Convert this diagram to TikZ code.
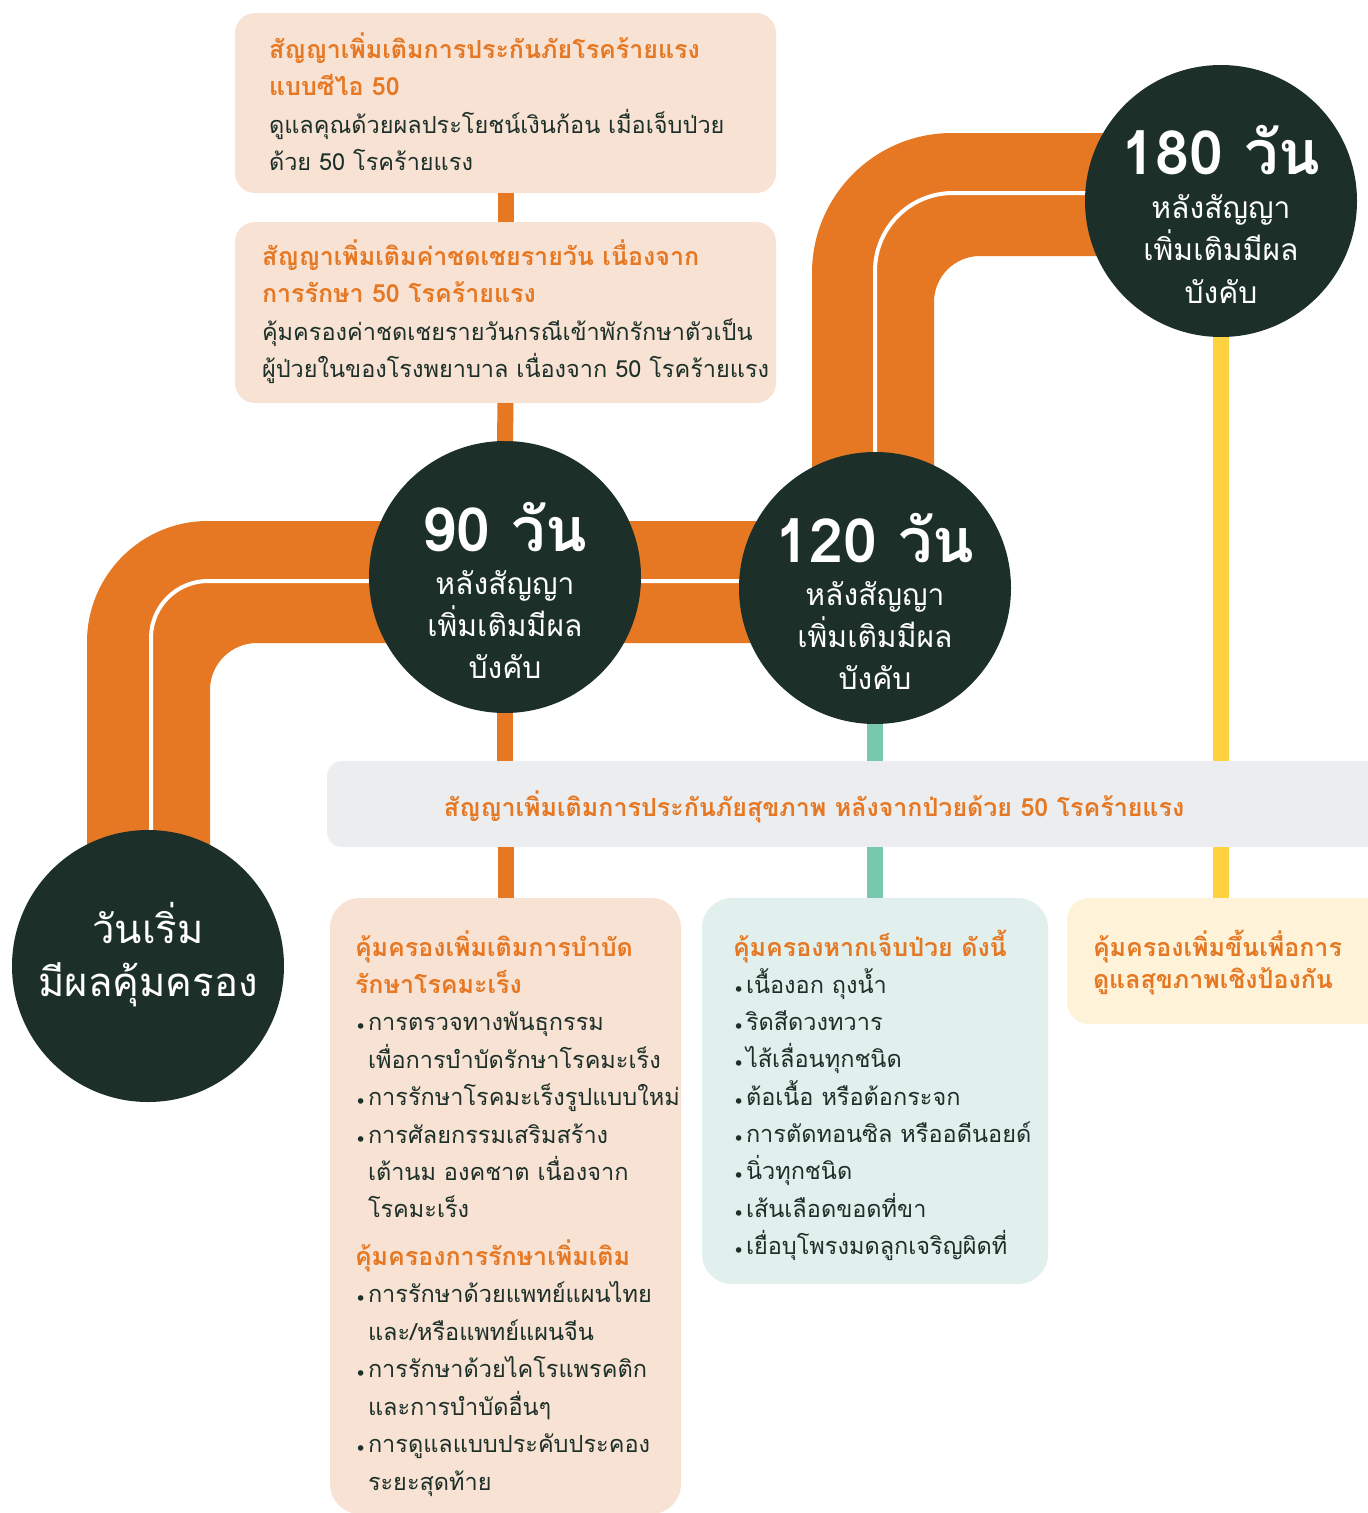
\documentclass[tikz,border=0pt]{standalone}
\usepackage{fontspec}
\newfontfamily\thai[Script=Thai]{Loma}
\newfontfamily\dv{DejaVu Sans}
\definecolor{orng}{HTML}{E67823}
\definecolor{dark}{HTML}{1C3029}
\definecolor{peach}{HTML}{F8E2D3}
\definecolor{grayb}{HTML}{ECEDEF}
\definecolor{teal}{HTML}{78C8AE}
\definecolor{yel}{HTML}{FFD23F}
\definecolor{tealbg}{HTML}{E1F0EC}
\definecolor{yelbg}{HTML}{FEF3D8}
\newcommand\fs[2]{\fontsize{#1}{#2}\selectfont}
\newcommand\Lyn[1]{\hbox{#1}}
\newcommand\stack[2]{\vtop{\baselineskip=#1\lineskiplimit=-1000pt\lineskip=0pt #2}}
\newcommand\ti{\color{orng}\bfseries}
\newcommand\bd{\color{dark}\mdseries\fs{23.5}{37.5}}
\newcommand\bul{\makebox[13pt][l]{\raisebox{-3pt}{\dv\fs{19}{19}•}}}
\newcommand\ind{\kern13pt}
\tikzset{
  shp/.style={inner sep=0pt, outer sep=0pt},
  card/.style={shp, rounded corners=#1},
  circ/.style={shp, circle, fill=dark, minimum size=272pt},
  txt/.style={inner sep=0pt, outer sep=0pt, font=\thai\fs{25}{37.5}},
  ctxt/.style={inner sep=0pt, anchor=base, text=white, font=\thai\fs{30}{40}},
  cbig/.style={inner sep=0pt, anchor=base, text=white, font=\thai\bfseries\fs{61}{61}},
  band/.style={fill=orng},
  wline/.style={draw=white, line width=4pt},
  stubO/.style={draw=orng, line width=16pt},
  stubT/.style={draw=teal, line width=16pt},
  stubY/.style={draw=yel, line width=16pt},
}
\begin{document}
\begin{tikzpicture}[x=1pt, y=-1pt]
\useasboundingbox (0,0) rectangle (1368,1513);
% bands
\fill[band] (87,1000) -- (87,642) arc[start angle=180, end angle=90, radius=121pt]
  -- (780,521) -- (780,643) -- (257,643) arc[start angle=90, end angle=180, radius=47pt] -- (210,1000) -- cycle;
\draw[wline] (151,1000) -- (151,638) arc[start angle=180, end angle=90, radius=57pt] -- (760,581);
\fill[band] (812,560) -- (812,273) arc[start angle=180, end angle=90, radius=140pt]
  -- (1200,133) -- (1200,256) -- (980,256) arc[start angle=90, end angle=180, radius=46pt] -- (934,560) -- cycle;
\draw[wline] (875,560) -- (875,271) arc[start angle=180, end angle=90, radius=78pt] -- (1150,193);
% cards
\node[card=20pt, fill=peach, minimum width=541pt, minimum height=180pt] (b1) at (505.5,103) {};
\node[card=20pt, fill=peach, minimum width=541pt, minimum height=181pt] (b2) at (505.5,312.5) {};
\node[card=15pt, fill=grayb, minimum width=1073pt, minimum height=86pt] (gray) at (863.5,804) {};
\node[card=30pt, fill=peach, minimum width=351pt, minimum height=616pt] (b3) at (505.5,1206) {};
\node[card=30pt, fill=tealbg, minimum width=346pt, minimum height=386pt] (b4) at (875,1091) {};
\node[card=22pt, fill=yelbg, minimum width=333pt, minimum height=126pt] (b5) at (1233.5,961) {};
% circles
\node[circ] (c0) at (148,966) {};
\node[circ] (c90) at (505,577) {};
\node[circ] (c120) at (875,588) {};
\node[circ] (c180) at (1221,201) {};
% connectors
\draw[stubO] (b1.south) -- (b2.north);
\draw[stubO] (b2.south) -- (c90.north);
\draw[stubO] (c90.south) -- (c90.south |- gray.north);
\draw[stubO] (b3.north |- gray.south) -- (b3.north);
\draw[stubT] (c120.south) -- (c120.south |- gray.north);
\draw[stubT] (b4.north |- gray.south) -- (b4.north);
\draw[stubY] (c180.south) -- (c180.south |- gray.north);
\draw[stubY] (c180.south |- gray.south) -- (c180.south |- b5.north);
% circle texts
\node[cbig] (c90a) at (505,551) {90 วัน};
\node[ctxt] (c90b) at (505,594) {หลังสัญญา};
\node[ctxt] (c90c) at (505,636) {เพิ่มเติมมีผล};
\node[ctxt] (c90d) at (505,678) {บังคับ};
\node[cbig] (c120a) at (875,562) {120 วัน};
\node[ctxt] (c120b) at (875,605) {หลังสัญญา};
\node[ctxt] (c120c) at (875,647) {เพิ่มเติมมีผล};
\node[ctxt] (c120d) at (875,689) {บังคับ};
\node[cbig] (c180a) at (1221,174) {180 วัน};
\node[ctxt] (c180b) at (1221,218) {หลังสัญญา};
\node[ctxt] (c180c) at (1221,260) {เพิ่มเติมมีผล};
\node[ctxt] (c180d) at (1221,303) {บังคับ};
\node[ctxt, font=\thai\fs{40}{40}] (c0a) at (148,943) {วันเริ่ม};
\node[ctxt, font=\thai\fs{40}{40}] (c0b) at (148,996) {มีผลคุ้มครอง};
% card texts
\node[txt, anchor=base west] (t1) at (269,58) {\stack{37.5pt}{%
  \Lyn{\ti สัญญาเพิ่มเติมการประกันภัยโรคร้ายแรง}
  \Lyn{\ti แบบซีไอ 50}
  \Lyn{\bd ดูแลคุณด้วยผลประโยชน์เงินก้อน เมื่อเจ็บป่วย}
  \Lyn{\bd ด้วย 50 โรคร้ายแรง}}};
\node[txt, anchor=base west] (t2) at (262,265) {\stack{37.5pt}{%
  \Lyn{\ti สัญญาเพิ่มเติมค่าชดเชยรายวัน เนื่องจาก}
  \Lyn{\ti การรักษา 50 โรคร้ายแรง}
  \Lyn{\bd คุ้มครองค่าชดเชยรายวันกรณีเข้าพักรักษาตัวเป็น}
  \Lyn{\bd ผู้ป่วยในของโรงพยาบาล เนื่องจาก 50 โรคร้ายแรง}}};
\node[txt, anchor=base, font=\thai\bfseries\fs{25}{25}, text=orng] (tg) at (814,816)
  {สัญญาเพิ่มเติมการประกันภัยสุขภาพ หลังจากป่วยด้วย 50 โรคร้ายแรง};
\node[txt, anchor=base west] (t3a) at (355,956) {\stack{37.4pt}{%
  \Lyn{\ti คุ้มครองเพิ่มเติมการบำบัด}
  \Lyn{\ti รักษาโรคมะเร็ง}
  \Lyn{\bd\bul การตรวจทางพันธุกรรม}
  \Lyn{\bd\ind เพื่อการบำบัดรักษาโรคมะเร็ง}
  \Lyn{\bd\bul การรักษาโรคมะเร็งรูปแบบใหม่}
  \Lyn{\bd\bul การศัลยกรรมเสริมสร้าง}
  \Lyn{\bd\ind เต้านม องคชาต เนื่องจาก}
  \Lyn{\bd\ind โรคมะเร็ง}}};
\node[txt, anchor=base west] (t3b) at (355,1265) {\stack{37.5pt}{%
  \Lyn{\ti คุ้มครองการรักษาเพิ่มเติม}
  \Lyn{\bd\bul การรักษาด้วยแพทย์แผนไทย}
  \Lyn{\bd\ind และ/หรือแพทย์แผนจีน}
  \Lyn{\bd\bul การรักษาด้วยไคโรแพรคติก}
  \Lyn{\bd\ind และการบำบัดอื่นๆ}
  \Lyn{\bd\bul การดูแลแบบประคับประคอง}
  \Lyn{\bd\ind ระยะสุดท้าย}}};
\node[txt, anchor=base west] (t4) at (733,956) {\stack{37.3pt}{%
  \Lyn{\ti คุ้มครองหากเจ็บป่วย ดังนี้}
  \Lyn{\bd\bul เนื้องอก ถุงน้ำ}
  \Lyn{\bd\bul ริดสีดวงทวาร}
  \Lyn{\bd\bul ไส้เลื่อนทุกชนิด}
  \Lyn{\bd\bul ต้อเนื้อ หรือต้อกระจก}
  \Lyn{\bd\bul การตัดทอนซิล หรืออดีนอยด์}
  \Lyn{\bd\bul นิ่วทุกชนิด}
  \Lyn{\bd\bul เส้นเลือดขอดที่ขา}
  \Lyn{\bd\bul เยื่อบุโพรงมดลูกเจริญผิดที่}}};
\node[txt, anchor=base west] (t5) at (1093,956) {\stack{32pt}{%
  \Lyn{\ti คุ้มครองเพิ่มขึ้นเพื่อการ}
  \Lyn{\ti ดูแลสุขภาพเชิงป้องกัน}}};
\end{tikzpicture}
\end{document}
